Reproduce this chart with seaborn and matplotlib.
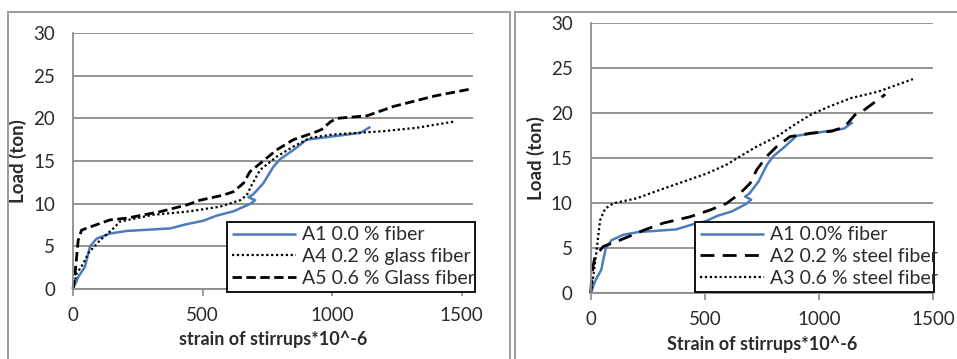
import numpy as np
import pandas as pd
import matplotlib
matplotlib.use("Agg")
import matplotlib.pyplot as plt
import seaborn as sns
from matplotlib.patches import Rectangle

# ---------------- data ----------------
a1_x = [0, 20, 46, 66, 91, 143, 207, 375, 439, 503, 555, 619, 683, 703, 677, 696, 735, 773, 799, 851, 902, 1007, 1110, 1148]
a1_y = [0, 1.4, 2.6, 5.0, 5.9, 6.5, 6.8, 7.1, 7.6, 8.0, 8.6, 9.1, 9.96, 10.4, 10.75, 11.1, 12.4, 14.3, 15.2, 16.3, 17.5, 17.9, 18.3, 19.0]

a4_x = [0, 14, 40, 59, 104, 156, 181, 310, 439, 568, 645, 671, 690, 722, 786, 851, 915, 1000, 1100, 1200, 1329, 1477]
a4_y = [0, 1.8, 3.0, 4.2, 5.7, 7.1, 7.9, 8.7, 9.06, 9.65, 10.4, 11.0, 12.2, 13.95, 15.5, 16.7, 17.7, 18.1, 18.3, 18.5, 18.9, 19.65]

a5_x = [0, 8, 20, 33, 78, 143, 207, 336, 439, 490, 580, 619, 658, 683, 722, 786, 851, 928, 960, 994, 1019, 1135, 1238, 1393, 1529]
a5_y = [0, 1.8, 5.7, 6.9, 7.4, 8.1, 8.3, 9.06, 9.85, 10.4, 11.0, 11.4, 12.4, 13.75, 14.7, 16.3, 17.5, 18.3, 18.7, 19.6, 20.0, 20.3, 21.4, 22.6, 23.4]

a2_x = [0, 4, 10, 19, 55, 128, 231, 318, 435, 523, 596, 654, 698, 727, 771, 815, 873, 967, 1055, 1113, 1157, 1200, 1291]
a2_y = [0, 1.5, 3.0, 4.1, 5.2, 5.9, 7.0, 7.8, 8.5, 9.25, 10.0, 11.1, 12.2, 13.7, 15.2, 16.3, 17.4, 17.8, 18.0, 18.5, 19.8, 20.4, 22.1]

a3_x = [0, 11, 26, 41, 63, 99, 201, 304, 406, 508, 596, 654, 727, 815, 903, 961, 1040, 1142, 1259, 1412]
a3_y = [0, 1.85, 4.8, 8.1, 9.4, 10.0, 10.55, 11.5, 12.4, 13.3, 14.3, 15.2, 16.3, 17.4, 18.9, 19.8, 20.7, 21.7, 22.4, 23.8]

left_labels = ["A1 0.0 % fiber", "A4 0.2 % glass fiber", "A5 0.6 % Glass fiber"]
right_labels = ["A1 0.0% fiber", "A2 0.2 % steel fiber", "A3 0.6 % steel fiber"]
y_ticks = [0, 5, 10, 15, 20, 25, 30]
x_ticks = [0, 500, 1000, 1500]

# ---------------- style ----------------
sns.set_theme(style="white")
FONT = ["Lato", "DejaVu Sans"]
plt.rcParams["font.family"] = FONT
TXT = "#2b2b2b"
GRID = "#8c8c8c"
BLUE = "#4a7ebb"

fig = plt.figure(figsize=(9.57, 3.59), dpi=100)
W, H = 957, 359

def fpos(x0, y0, x1, y1):
    return [x0 / W, 1 - y1 / H, (x1 - x0) / W, (y1 - y0) / H]

# panel frames
for (bx0, bx1) in [(8, 510), (515, 962)]:
    fig.patches.append(Rectangle((bx0 / W, -0.05), (bx1 - bx0) / W, 1 - 12 / H + 0.05,
                                 transform=fig.transFigure, fill=False,
                                 edgecolor="#9a9a9a", linewidth=1.4, zorder=0))

axL = fig.add_axes(fpos(73, 33, 473, 289))
axR = fig.add_axes(fpos(590.7, 23.3, 933, 293.3))

def style_axes(ax, xmax, xlabel):
    ax.set_xlim(0, xmax)
    ax.set_ylim(0, 30)
    ax.set_yticks(y_ticks)
    ax.set_xticks(x_ticks)
    ax.set_yticklabels([str(v) for v in y_ticks])
    ax.set_xticklabels([str(v) for v in x_ticks])
    for s in ["top", "right"]:
        ax.spines[s].set_visible(False)
    for s in ["left", "bottom"]:
        ax.spines[s].set_color(GRID)
        ax.spines[s].set_linewidth(1.3)
    ax.grid(axis="y", color=GRID, linewidth=1.3)
    ax.grid(axis="x", visible=False)
    ax.tick_params(axis="x", direction="out", length=5, width=1.2, color=GRID,
                   labelsize=13.5, labelcolor=TXT, pad=8, bottom=True)
    ax.tick_params(axis="y", length=0, labelsize=13.5, labelcolor=TXT, pad=13, left=False)
    ax.set_xlabel(xlabel, fontsize=13, fontweight="bold", color=TXT, labelpad=5)
    ax.set_ylabel("Load (ton)", fontsize=13.5, fontweight="bold", color=TXT, labelpad=4)
    ax.set_axisbelow(True)

def draw(ax, x, y, label, color, dashes, lw):
    df = pd.DataFrame({"x": x, "y": y})
    sns.lineplot(data=df, x="x", y="y", ax=ax, sort=False, estimator=None,
                 color=color, linewidth=lw, label=label)
    line = ax.lines[-1]
    if dashes is not None:
        line.set_dashes(dashes)
    line.set_clip_on(False)
    line.set_solid_capstyle("butt")

# left panel
draw(axL, a1_x, a1_y, left_labels[0], BLUE, None, 1.8)
draw(axL, a4_x, a4_y, left_labels[1], "black", (1, 1.2), 1.6)
draw(axL, a5_x, a5_y, left_labels[2], "black", (3.4, 1.6), 2.0)
style_axes(axL, 1544, "strain of stirrups*10^-6")

# right panel
draw(axR, a1_x, a1_y, right_labels[0], BLUE, None, 1.8)
draw(axR, a2_x, a2_y, right_labels[1], "black", (5, 3), 2.0)
draw(axR, a3_x, a3_y, right_labels[2], "black", (1, 1.2), 1.6)
style_axes(axR, 1500, "Strain of stirrups*10^-6")

def legend(ax, x0, y0, x1, y1):
    leg = ax.legend(loc="lower left",
                    bbox_to_anchor=(x0 / W, 1 - y1 / H, (x1 - x0) / W, (y1 - y0) / H),
                    bbox_transform=fig.transFigure, mode="expand",
                    frameon=True, fancybox=False, framealpha=1,
                    edgecolor="black", fontsize=14, handlelength=3.3,
                    handletextpad=0.3, borderpad=0.25, labelspacing=0.25,
                    borderaxespad=0)
    leg.get_frame().set_linewidth(1.3)
    for t in leg.get_texts():
        t.set_color(TXT)
    return leg

legend(axL, 227, 219, 475, 292)
legend(axR, 695, 222, 934, 292)

fig.savefig("out.png", dpi=100)
